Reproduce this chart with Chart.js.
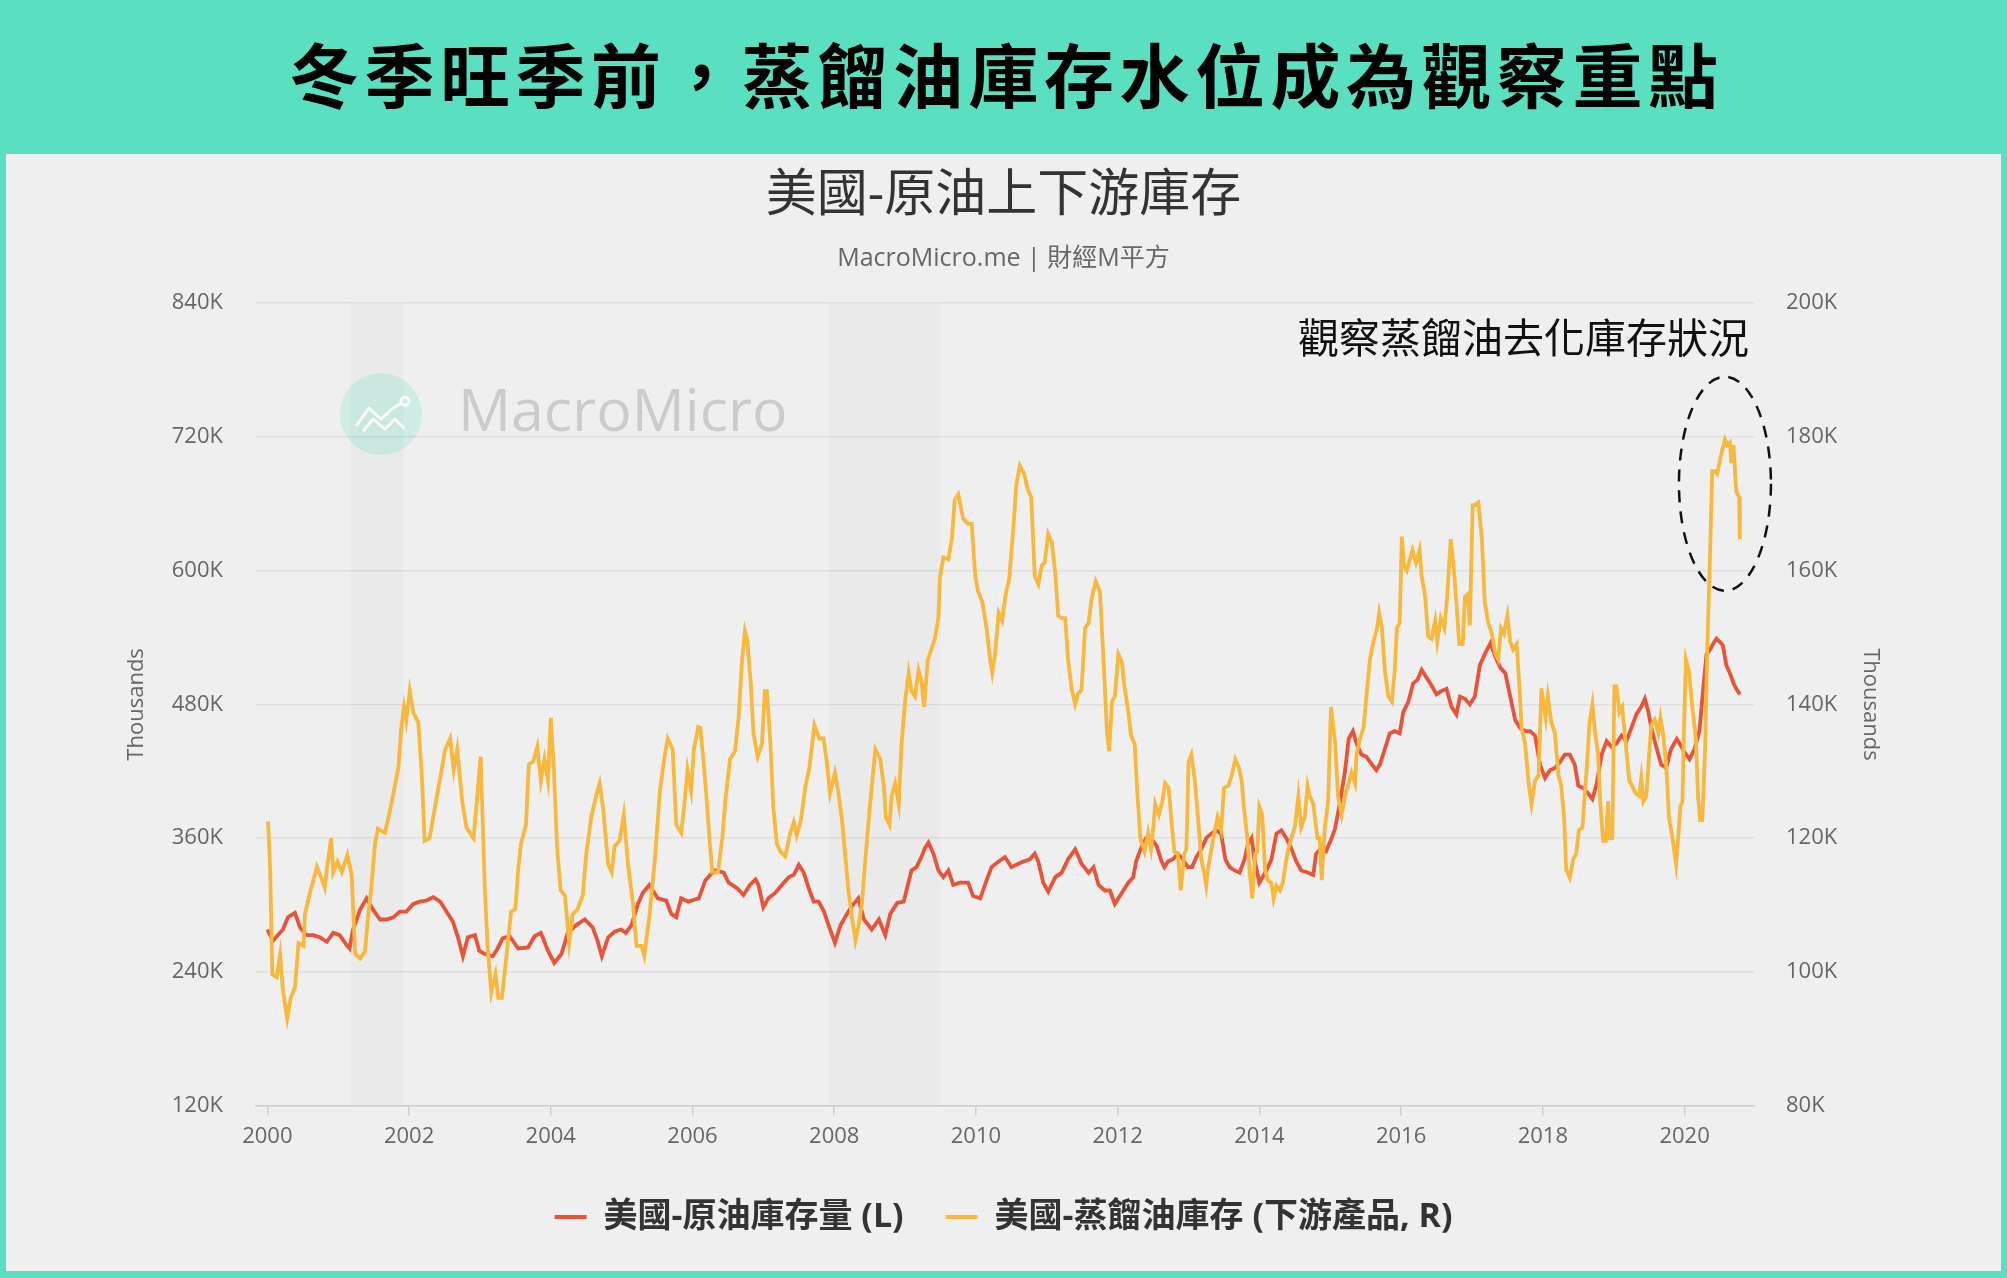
<!DOCTYPE html>
<html>
<head>
<meta charset="utf-8">
<script src="https://cdn.jsdelivr.net/npm/chart.js@4/dist/chart.umd.min.js"></script>
<style>
  body { margin: 0; width: 2007px; height: 1278px; background: #5adfc0; overflow: hidden; }
  #banner {
    position: absolute; left: 0; top: 22px; width: 2007px; height: 154px;
    line-height: 154px; text-align: center; color: #000;
    font: bold 70px "Noto Sans CJK TC", sans-serif; letter-spacing: 5.5px; padding-left: 5.5px; box-sizing: border-box;
  }
  #panel { position: absolute; left: 6px; top: 154px; width: 1995px; height: 1117px; background: #efefef; }
</style>
</head>
<body>
<div id="banner">冬季旺季前，蒸餾油庫存水位成為觀察重點</div>
<div id="panel"><canvas id="chart"></canvas></div>
<script>
// 美國-原油庫存量 (L), thousands
const crudeYears = [2000.00,2000.08,2000.15,2000.22,2000.29,2000.39,2000.46,2000.55,2000.65,2000.74,2000.84,2000.93,
  2001.02,2001.12,2001.16,2001.21,2001.31,2001.40,2001.49,2001.59,2001.68,2001.78,2001.87,2001.96,
  2002.06,2002.15,2002.25,2002.34,2002.44,2002.53,2002.62,2002.69,2002.76,2002.83,2002.93,2002.99,
  2003.07,2003.18,2003.25,2003.32,2003.42,2003.54,2003.68,2003.77,2003.86,2003.96,
  2004.05,2004.15,2004.24,2004.36,2004.48,2004.59,2004.66,2004.72,2004.81,2004.90,2004.99,
  2005.06,2005.14,2005.23,2005.30,2005.39,2005.51,2005.63,2005.70,2005.77,2005.84,2005.94,
  2006.09,2006.18,2006.25,2006.32,2006.44,2006.51,2006.63,2006.72,2006.81,2006.89,2006.93,
  2007.00,2007.07,2007.17,2007.26,2007.36,2007.43,2007.50,2007.57,2007.64,2007.71,2007.78,2007.85,2007.92,
  2008.01,2008.09,2008.18,2008.25,2008.34,2008.42,2008.53,2008.63,2008.72,2008.79,2008.89,2008.98,
  2009.09,2009.16,2009.23,2009.28,2009.33,2009.40,2009.47,2009.54,2009.61,2009.68,2009.77,2009.89,2009.96,
  2010.06,2010.15,2010.22,2010.32,2010.41,2010.50,2010.60,2010.67,2010.76,2010.83,2010.88,2010.95,
  2011.02,2011.12,2011.21,2011.30,2011.40,2011.49,2011.59,2011.66,2011.73,2011.82,2011.89,2011.96,
  2012.06,2012.15,2012.22,2012.26,2012.33,2012.40,2012.47,2012.55,2012.62,2012.66,2012.71,2012.78,2012.85,2012.92,2012.99,
  2013.05,2013.11,2013.18,2013.25,2013.32,2013.39,2013.46,2013.52,2013.58,2013.65,2013.72,2013.79,2013.84,2013.89,2013.93,
  2014.00,2014.10,2014.17,2014.24,2014.31,2014.38,2014.45,2014.52,2014.59,2014.69,2014.76,2014.80,2014.87,2014.94,
  2015.02,2015.07,2015.14,2015.21,2015.26,2015.32,2015.37,2015.44,2015.51,2015.59,2015.65,2015.70,2015.77,2015.84,2015.91,2015.98,
  2016.03,2016.10,2016.17,2016.23,2016.29,2016.36,2016.43,2016.50,2016.57,2016.64,2016.71,2016.78,2016.83,2016.90,2016.97,
  2017.04,2017.11,2017.18,2017.26,2017.33,2017.40,2017.47,2017.54,2017.61,2017.68,2017.75,2017.82,2017.89,2017.96,
  2018.03,2018.10,2018.17,2018.24,2018.31,2018.38,2018.45,2018.50,2018.57,2018.64,2018.70,2018.76,2018.83,2018.90,2018.97,
  2019.04,2019.11,2019.18,2019.25,2019.32,2019.39,2019.44,2019.49,2019.53,2019.60,2019.67,2019.74,2019.81,2019.89,2019.93,
  2020.00,2020.07,2020.14,2020.21,2020.26,2020.31,2020.36,2020.40,2020.45,2020.50,2020.54,2020.59,2020.64,2020.69,2020.73,2020.78];
const crudeK = [278,268,273,278,289,293,280,273,273,271,267,275,
  273,264,261,278,296,306,296,287,287,289,294,294,
  301,303,304,307,303,294,285,271,254,271,273,259,
  256,254,261,270,272,261,262,272,275,259,
  248,256,275,282,287,280,268,254,271,276,278,
  275,282,301,311,318,306,304,292,289,306,303,
  306,322,327,331,329,320,315,309,318,323,318,
  298,306,311,318,325,327,336,329,315,303,303,295,282,
  266,282,292,299,306,287,278,287,273,292,302,303,
  331,334,343,351,356,346,331,325,331,318,320,320,308,
  306,322,334,339,343,334,337,339,341,346,339,320,
  312,325,329,341,350,337,329,334,318,313,313,301,
  311,320,325,339,351,360,360,353,339,334,339,341,346,341,334,
  334,343,350,360,364,367,364,341,334,331,329,341,355,360,341,
  320,331,341,364,367,360,351,339,331,329,327,346,351,348,
  360,369,393,421,449,456,445,435,433,426,421,426,440,454,456,454,
  473,482,499,502,511,504,497,489,492,494,478,471,487,485,480,
  487,515,525,535,523,513,508,487,466,459,456,456,452,426,
  414,421,423,428,435,435,426,407,405,400,395,409,435,447,442,
  445,452,447,459,471,478,485,473,459,442,426,423,440,449,445,
  437,431,440,456,492,525,529,534,539,536,533,515,508,499,494,489];

// 美國-蒸餾油庫存 (下游產品, R), thousands
const distYears = [2000.01,2000.04,2000.07,2000.13,2000.18,2000.22,2000.28,2000.33,2000.39,2000.44,2000.51,2000.53,
  2000.60,2000.67,2000.70,2000.76,2000.81,2000.84,2000.90,2000.93,2000.99,
  2001.05,2001.13,2001.19,2001.24,2001.31,2001.38,2001.42,2001.47,2001.52,2001.56,2001.66,2001.71,2001.78,2001.85,2001.89,2001.93,2001.96,
  2002.01,2002.06,2002.13,2002.18,2002.22,2002.29,2002.36,2002.44,2002.51,2002.58,2002.63,2002.68,2002.75,2002.81,2002.91,2002.95,
  2003.01,2003.07,2003.11,2003.16,2003.22,2003.26,2003.31,2003.37,2003.44,2003.50,2003.54,2003.58,2003.65,2003.69,2003.75,2003.81,2003.86,2003.91,2003.96,
  2004.00,2004.04,2004.09,2004.14,2004.20,2004.26,2004.31,2004.38,2004.45,2004.50,2004.57,2004.64,2004.69,2004.74,2004.81,2004.86,2004.90,2004.97,
  2005.03,2005.09,2005.16,2005.21,2005.28,2005.32,2005.39,2005.47,2005.54,2005.61,2005.65,2005.72,2005.77,2005.84,2005.89,2005.93,2005.98,
  2006.02,2006.08,2006.11,2006.16,2006.19,2006.25,2006.28,2006.36,2006.42,2006.47,2006.53,2006.60,2006.65,2006.70,2006.74,2006.77,2006.82,2006.86,2006.92,2006.98,
  2007.02,2007.05,2007.10,2007.14,2007.19,2007.24,2007.31,2007.38,2007.43,2007.47,2007.53,2007.59,2007.65,2007.72,2007.79,2007.85,2007.90,2007.94,
  2008.01,2008.06,2008.11,2008.16,2008.20,2008.25,2008.30,2008.34,2008.39,2008.44,2008.49,2008.53,2008.58,2008.65,2008.70,2008.73,2008.78,2008.81,2008.86,2008.91,2008.95,
  2009.00,2009.05,2009.09,2009.14,2009.19,2009.23,2009.27,2009.32,2009.37,2009.42,2009.47,2009.49,2009.54,2009.61,2009.66,2009.70,2009.75,2009.82,2009.89,2009.94,2009.99,
  2010.03,2010.09,2010.15,2010.20,2010.23,2010.27,2010.32,2010.37,2010.42,2010.47,2010.53,2010.57,2010.62,2010.68,2010.73,2010.78,2010.83,2010.88,2010.93,2010.97,
  2011.02,2011.07,2011.12,2011.16,2011.21,2011.26,2011.30,2011.35,2011.40,2011.44,2011.49,2011.54,2011.59,2011.63,2011.69,2011.75,2011.80,2011.85,2011.88,2011.92,2011.96,
  2012.01,2012.06,2012.09,2012.14,2012.19,2012.24,2012.28,2012.32,2012.38,2012.43,2012.47,2012.50,2012.53,2012.58,2012.63,2012.67,2012.72,2012.76,2012.80,2012.85,2012.89,2012.94,2012.97,
  2013.00,2013.04,2013.09,2013.13,2013.18,2013.22,2013.25,2013.28,2013.35,2013.41,2013.46,2013.50,2013.56,2013.61,2013.66,2013.71,2013.75,2013.78,2013.83,2013.86,2013.90,2013.94,2013.97,
  2014.00,2014.04,2014.08,2014.12,2014.17,2014.20,2014.24,2014.29,2014.33,2014.37,2014.40,2014.45,2014.50,2014.55,2014.59,2014.64,2014.68,2014.71,2014.76,2014.82,2014.85,2014.88,2014.92,2014.97,
  2015.01,2015.07,2015.11,2015.16,2015.21,2015.26,2015.30,2015.35,2015.37,2015.42,2015.47,2015.51,2015.56,2015.61,2015.66,2015.69,2015.73,2015.77,2015.82,2015.87,2015.91,2015.94,2015.98,
  2016.01,2016.04,2016.08,2016.13,2016.16,2016.21,2016.26,2016.29,2016.34,2016.38,2016.43,2016.48,2016.51,2016.56,2016.61,2016.65,2016.70,2016.74,2016.78,2016.82,2016.87,2016.90,2016.94,2016.97,
  2017.01,2017.04,2017.09,2017.14,2017.18,2017.23,2017.28,2017.33,2017.37,2017.41,2017.45,2017.50,2017.54,2017.58,2017.63,2017.67,2017.70,2017.75,2017.80,2017.84,2017.89,2017.94,2017.98,
  2018.04,2018.07,2018.12,2018.17,2018.22,2018.26,2018.30,2018.33,2018.38,2018.43,2018.47,2018.51,2018.56,2018.59,2018.62,2018.66,2018.70,2018.73,2018.78,2018.81,2018.85,2018.89,2018.92,2018.94,2018.98,
  2019.01,2019.04,2019.08,2019.12,2019.17,2019.22,2019.26,2019.31,2019.36,2019.39,2019.42,2019.46,2019.50,2019.53,2019.58,2019.63,2019.66,2019.70,2019.74,2019.78,2019.83,2019.88,2019.91,2019.94,2019.97,2019.99,
  2020.02,2020.06,2020.11,2020.16,2020.19,2020.22,2020.25,2020.29,2020.32,2020.36,2020.39,2020.43,2020.46,2020.50,2020.53,2020.57,2020.60,2020.64,2020.66,2020.69,2020.73,2020.77,2020.78];
const distK = [122.5,115.3,99.6,99.2,102.6,97.3,93.0,96.1,97.7,104.3,103.9,108.6,
  111.8,114.5,115.7,114.1,112.6,115.3,120.0,114.9,116.5,
  114.9,117.5,114.5,102.7,102.0,103.1,108.2,112.9,119.2,121.4,120.8,123.1,126.7,130.6,136.5,139.6,137.6,
  142.0,138.8,137.3,129.4,119.6,120.0,124.3,129.0,133.3,134.9,130.2,133.3,125.5,121.6,120.0,124.7,
  132.2,112.2,103.5,96.9,99.6,96.1,96.1,102.0,109.0,109.4,115.3,119.2,122.0,131.0,131.4,133.7,128.6,131.8,128.6,
  138.0,131.0,118.4,112.2,111.4,104.3,108.6,109.4,111.4,117.6,123.1,126.3,128.2,124.3,116.1,114.9,118.8,119.6,
  123.5,116.1,110.2,103.9,103.9,102.4,108.2,116.9,127.1,132.5,134.9,133.3,122.0,120.8,125.5,130.2,127.1,
  133.3,136.6,136.5,131.0,127.1,118.4,114.9,114.9,120.0,126.3,131.8,133.0,138.0,146.7,151.0,149.8,143.5,135.7,132.2,134.1,
  142.0,142.0,134.1,124.7,119.2,118.0,117.3,120.8,122.4,120.4,122.7,127.5,130.6,136.9,134.9,134.9,131.0,126.7,
  129.8,126.7,122.7,116.9,112.2,108.2,104.7,106.7,110.2,116.9,123.1,127.8,133.3,131.8,127.8,123.1,122.0,126.3,128.2,125.1,134.1,
  140.4,144.7,142.0,141.2,145.1,143.5,139.6,146.7,148.2,149.8,152.9,158.8,162.0,161.7,164.7,170.6,171.4,167.8,167.0,167.0,159.2,
  156.9,155.3,151.4,146.7,144.7,147.5,153.7,152.5,156.5,158.8,166.7,172.9,175.7,174.5,172.2,171.0,159.2,158.0,160.8,161.2,
  165.5,164.3,159.6,153.3,152.9,152.9,146.7,142.4,140.0,141.6,142.2,151.4,152.2,155.7,158.4,156.9,146.7,135.7,133.0,140.4,141.2,
  147.5,146.3,143.1,139.6,135.3,134.1,126.3,120.0,118.0,120.8,118.4,121.2,125.1,123.5,125.5,128.2,127.5,122.4,118.0,117.6,112.2,117.6,118.4,
  131.4,132.5,128.6,123.5,116.9,114.9,112.9,115.7,120.0,123.1,121.2,127.5,127.8,129.4,131.8,130.6,128.6,124.7,120.0,115.3,111.0,117.6,118.0,
  124.7,123.5,115.3,113.7,113.3,111.0,112.9,112.2,113.3,116.1,118.0,120.0,121.6,126.3,121.6,123.1,127.8,126.3,125.1,120.0,120.0,113.7,121.2,125.5,
  139.6,134.1,126.3,123.5,126.3,128.2,129.8,128.2,132.5,134.9,136.5,141.2,146.7,149.4,151.4,153.7,151.4,145.1,141.2,140.4,145.1,151.4,152.2,
  165.1,160.8,160.0,162.0,163.1,161.2,163.1,159.2,156.1,150.2,149.8,152.5,149.4,152.9,151.4,156.1,164.7,160.8,155.3,149.0,149.0,156.1,156.5,151.8,
  169.8,169.8,170.2,164.7,155.3,152.2,150.6,147.5,146.7,151.4,150.6,153.3,149.4,148.2,149.0,142.7,136.5,134.1,128.2,125.1,128.6,129.4,142.4,
  138.0,141.2,137.3,135.7,129.4,127.8,123.1,115.3,114.1,116.9,117.6,121.2,121.6,126.3,130.6,137.3,140.0,136.5,132.5,125.5,119.6,119.6,125.5,120.0,120.0,
  142.7,142.7,138.8,139.6,134.1,128.6,127.8,126.7,126.3,129.0,125.5,126.3,132.5,136.9,137.7,135.7,138.0,135.3,131.0,123.1,120.0,116.1,120.0,124.7,125.5,135.7,
  146.7,145.1,139.6,134.9,126.3,122.7,122.7,133.3,148.2,162.4,174.9,174.9,174.5,176.5,178.0,179.6,178.8,179.2,176.1,178.8,171.8,171.0,164.7];

const xTicks = [2000, 2002, 2004, 2006, 2008, 2010, 2012, 2014, 2016, 2018, 2020];
const leftTicks = [120, 240, 360, 480, 600, 720, 840];
const rightTicks = [80, 100, 120, 140, 160, 180, 200];
const recessionStart = [2001.17, 2007.92];
const recessionEnd = [2001.92, 2009.5];

const RED = '#e8533a';
const YELLOW = '#f7b83d';
const FONT = "'Open Sans', 'Noto Sans CJK TC', sans-serif";

Chart.defaults.font.family = FONT;

const decor = {
  id: 'decor',
  beforeDraw(chart) {
    const { ctx, chartArea: a, scales: { x } } = chart;
    ctx.save();
    // recession shading
    ctx.fillStyle = '#eaeaea';
    recessionStart.forEach((s, i) => {
      const x0 = x.getPixelForValue(s);
      const x1 = x.getPixelForValue(recessionEnd[i]);
      ctx.fillRect(x0, a.top, x1 - x0, a.bottom - a.top);
    });
    // watermark
    const cx = a.left + 125, cy = a.top + 111;
    ctx.fillStyle = 'rgba(90,223,192,0.22)';
    ctx.beginPath();
    ctx.arc(cx, cy, 41, 0, Math.PI * 2);
    ctx.fill();
    ctx.strokeStyle = 'rgba(255,255,255,0.85)';
    ctx.lineWidth = 3;
    ctx.lineJoin = 'round';
    ctx.beginPath();
    ctx.moveTo(cx - 25, cy + 12); ctx.lineTo(cx - 12, cy - 6); ctx.lineTo(cx, cy + 5);
    ctx.lineTo(cx + 12, cy - 6); ctx.lineTo(cx + 20, cy - 11);
    ctx.moveTo(cx - 18, cy + 17); ctx.lineTo(cx - 8, cy + 5); ctx.lineTo(cx + 4, cy + 15);
    ctx.lineTo(cx + 14, cy + 5); ctx.lineTo(cx + 24, cy + 15);
    ctx.stroke();
    ctx.beginPath();
    ctx.arc(cx + 24, cy - 13, 4, 0, Math.PI * 2);
    ctx.stroke();
    ctx.fillStyle = 'rgba(0,0,0,0.15)';
    ctx.font = '59px ' + FONT;
    ctx.textBaseline = 'middle';
    ctx.fillText('MacroMicro', a.left + 202, cy);
    ctx.restore();
  },
  afterDraw(chart) {
    const { ctx, scales: { x, yL } } = chart;
    ctx.save();
    ctx.fillStyle = '#111';
    ctx.font = '41px ' + FONT;
    ctx.textAlign = 'right';
    ctx.textBaseline = 'middle';
    ctx.fillText('觀察蒸餾油去化庫存狀況', x.getPixelForValue(2020.91), yL.getPixelForValue(806));
    ctx.strokeStyle = '#111';
    ctx.lineWidth = 2.5;
    ctx.setLineDash([12, 9]);
    ctx.beginPath();
    ctx.ellipse(x.getPixelForValue(2020.57), yL.getPixelForValue(678), 46, 107, 0, 0, Math.PI * 2);
    ctx.stroke();
    ctx.restore();
  }
};

new Chart(document.getElementById('chart'), {
  type: 'line',
  data: {
    datasets: [
      {
        label: '美國-蒸餾油庫存 (下游產品, R)',
        data: distYears.map((t, i) => ({ x: t, y: distK[i] })),
        yAxisID: 'yR',
        borderColor: YELLOW,
        backgroundColor: YELLOW,
        borderWidth: 3.8,
        pointRadius: 0,
        tension: 0
      },
      {
        label: '美國-原油庫存量 (L)',
        data: crudeYears.map((t, i) => ({ x: t, y: crudeK[i] })),
        yAxisID: 'yL',
        borderColor: RED,
        backgroundColor: RED,
        borderWidth: 3.8,
        pointRadius: 0,
        tension: 0
      }
    ]
  },
  options: {
    responsive: true,
    maintainAspectRatio: false,
    animation: false,
    layout: { padding: { left: 114, right: 114, top: 0, bottom: 27 } },
    plugins: {
      title: {
        display: true,
        text: '美國-原油上下游庫存',
        color: '#333',
        font: { size: 51, weight: 'normal' },
        padding: { top: 12, bottom: 8 }
      },
      subtitle: {
        display: true,
        text: 'MacroMicro.me | 財經M平方',
        color: '#666',
        font: { size: 25 },
        padding: { top: 9, bottom: 29 }
      },
      legend: {
        position: 'bottom',
        reverse: true,
        labels: {
          color: '#333',
          font: { size: 34, weight: 'bold' },
          boxWidth: 32,
          boxHeight: 4,
          padding: 42,
          generateLabels: (chart) =>
            Chart.defaults.plugins.legend.labels.generateLabels(chart).map(l => ({ ...l, lineWidth: 0 }))
        }
      },
      tooltip: { enabled: false }
    },
    scales: {
      x: {
        type: 'linear',
        min: 1999.84,
        max: 2020.98,
        afterBuildTicks: (s) => { s.ticks = xTicks.map(v => ({ value: v })); },
        ticks: { color: '#666', font: { size: 22 }, padding: 8, maxRotation: 0, autoSkip: false, callback: v => String(v) },
        grid: { drawOnChartArea: false, drawTicks: true, tickLength: 10, color: '#cfcfcf', lineWidth: 1.5 },
        border: { color: '#cfcfcf', width: 1.5 }
      },
      yL: {
        position: 'left',
        min: 120,
        max: 840,
        afterBuildTicks: (s) => { s.ticks = leftTicks.map(v => ({ value: v })); },
        afterFit: (s) => { s.width = 136; },
        ticks: { color: '#666', font: { size: 22 }, padding: 33, callback: v => v + 'K' },
        grid: { color: 'rgba(0,0,0,0.065)', lineWidth: 1.5, drawTicks: false },
        border: { display: false },
        title: { display: true, text: 'Thousands', color: '#666', font: { size: 22 } }
      },
      yR: {
        position: 'right',
        min: 80,
        max: 200,
        afterBuildTicks: (s) => { s.ticks = rightTicks.map(v => ({ value: v })); },
        afterFit: (s) => { s.width = 133; },
        ticks: { color: '#666', font: { size: 22 }, padding: 32, callback: v => v + 'K' },
        grid: { drawOnChartArea: false, drawTicks: false },
        border: { display: false },
        title: { display: true, text: 'Thousands', color: '#666', font: { size: 22 } }
      }
    }
  },
  plugins: [decor]
});
</script>
</body>
</html>
